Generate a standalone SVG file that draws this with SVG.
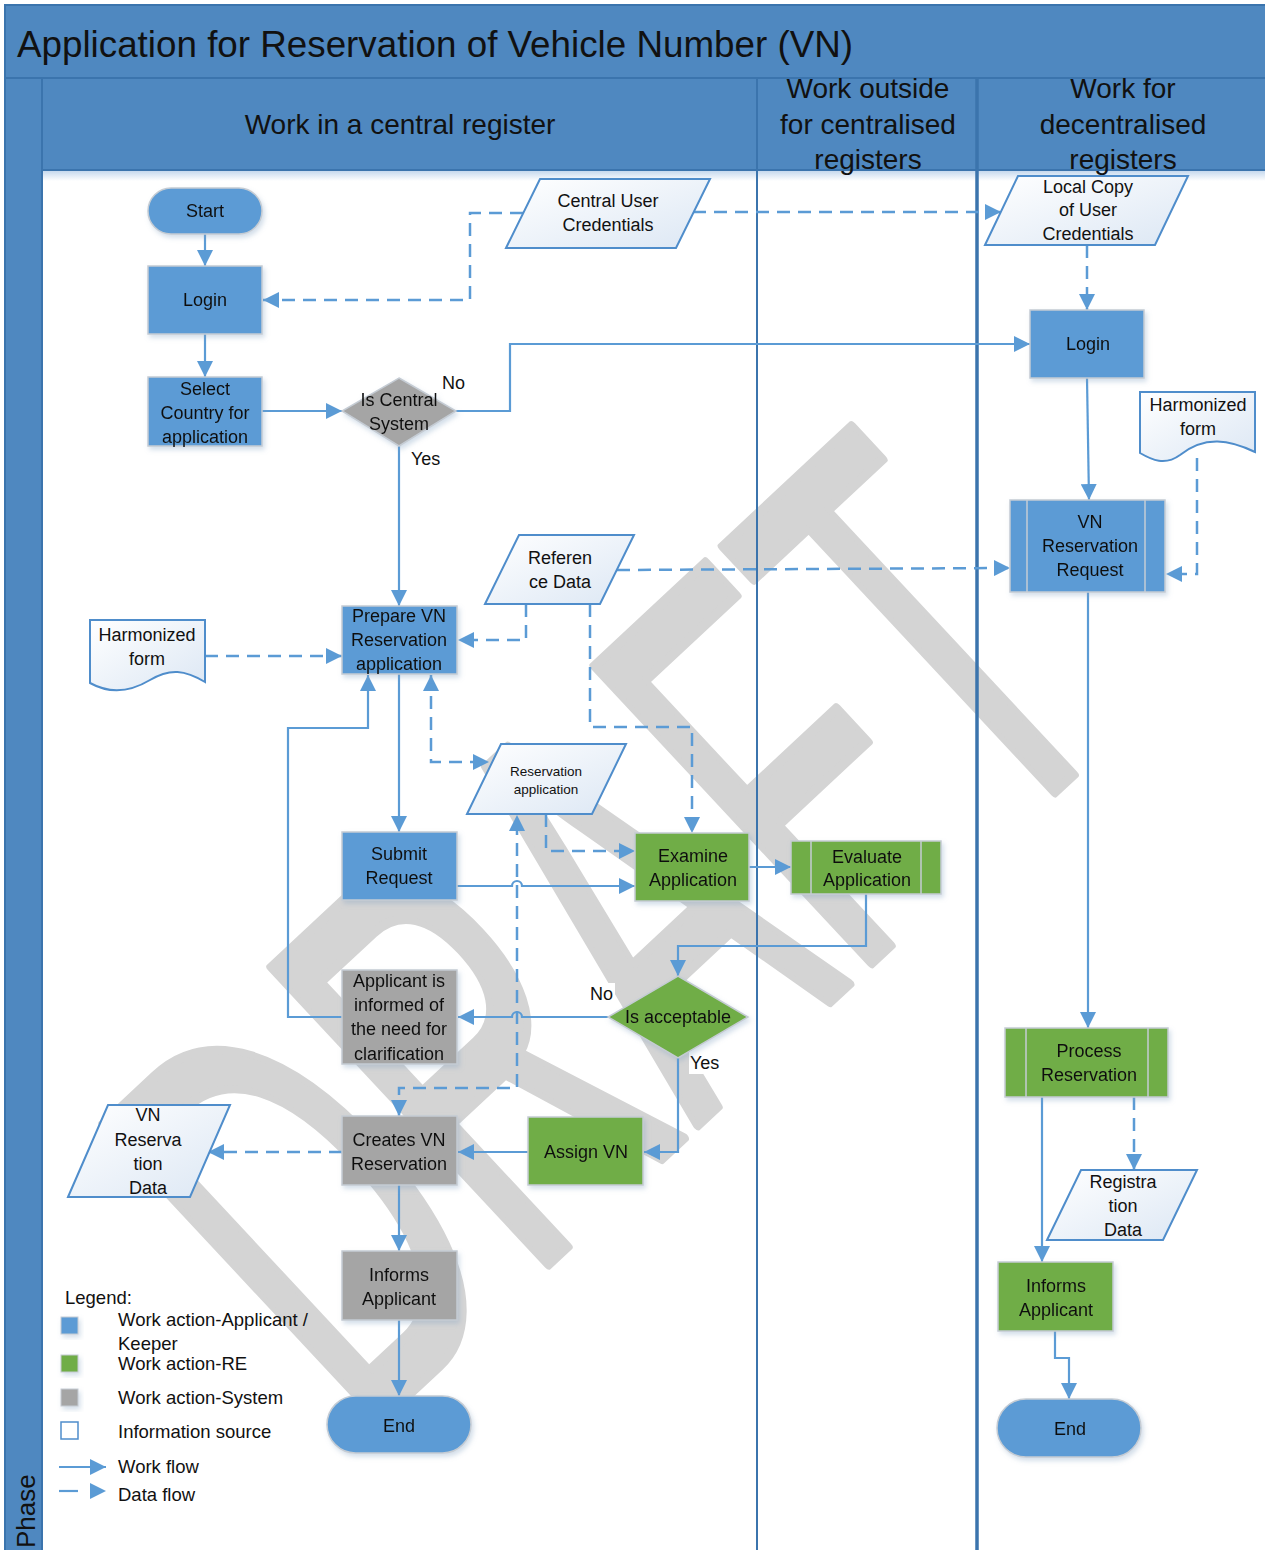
<svg xmlns="http://www.w3.org/2000/svg" width="1265" height="1550" viewBox="0 0 1265 1550">
<style>
text{font-family:"Liberation Sans",Arial,sans-serif;fill:#111}
.hd{font-size:28px;text-anchor:middle}
.t{font-size:18px;text-anchor:middle}
.s{font-size:13.5px;text-anchor:middle}
.lg{font-size:18.5px}
.blue{fill:#5b9bd5;stroke:#c5ccd4;stroke-width:1.5}
.green{fill:#70ad47;stroke:#c5ccd4;stroke-width:1.5}
.gray{fill:#a5a5a5;stroke:#c5ccd4;stroke-width:1.5}
.data{fill:url(#dg);stroke:#4f8dcb;stroke-width:2}
.in{stroke:#c5ccd4;stroke-width:1.5;fill:none}
.w{fill:none;stroke:#5b9bd5;stroke-width:2.2}
.d{fill:none;stroke:#5b9bd5;stroke-width:2.5;stroke-dasharray:13 8}
.lab{font-size:18px}
</style>
<defs>
<linearGradient id="dg" x1="0" y1="0" x2="1" y2="1">
<stop offset="0" stop-color="#ffffff"/><stop offset="1" stop-color="#dce7f4"/>
</linearGradient>
<linearGradient id="hs" x1="0" y1="0" x2="0" y2="1">
<stop offset="0" stop-color="#c6d9ee"/><stop offset="1" stop-color="#ffffff"/>
</linearGradient>
<filter id="sh" x="-20%" y="-20%" width="150%" height="150%">
<feDropShadow dx="2" dy="3" stdDeviation="2.5" flood-color="#7f9fc0" flood-opacity="0.35"/>
</filter>
<marker id="ah" viewBox="0 0 10 10" refX="10" refY="5" markerWidth="16" markerHeight="16" markerUnits="userSpaceOnUse" orient="auto-start-reverse">
<path d="M0,0 L10,5 L0,10 z" fill="#5b9bd5"/>
</marker>
</defs>

<!-- background / pool -->
<rect x="0" y="0" width="1265" height="1550" fill="#ffffff"/>
<rect x="5" y="5" width="1262" height="73" fill="#4f88c0" stroke="#3b74ad" stroke-width="2"/>
<text x="17" y="57" textLength="836" lengthAdjust="spacingAndGlyphs" style="font-size:37px">Application for Reservation of Vehicle Number (VN)</text>
<rect x="5" y="78" width="37" height="1475" fill="#4f88c0" stroke="#3b74ad" stroke-width="2"/>
<text transform="translate(35,1548) rotate(-90)" style="font-size:26px">Phase</text>
<rect x="42" y="78" width="1225" height="92" fill="#4f88c0" stroke="#3b74ad" stroke-width="2"/>
<rect x="43" y="171" width="1222" height="10" fill="url(#hs)"/>

<!-- watermark -->
<text transform="translate(360,1440) rotate(-43)" textLength="1060" lengthAdjust="spacingAndGlyphs" style="font-size:590px;fill:#d4d4d4;stroke:#d4d4d4;stroke-width:10;stroke-linejoin:round">DRAFT</text>

<!-- lane dividers -->
<g id="lanes">
<line x1="42" y1="78" x2="42" y2="1550" stroke="#3b74ad" stroke-width="2"/>
<line x1="757" y1="78" x2="757" y2="1550" stroke="#3b74ad" stroke-width="2"/>
<line x1="977" y1="78" x2="977" y2="1550" stroke="#3b74ad" stroke-width="3.5"/>
<line x1="5" y1="1550" x2="5" y2="5" stroke="#3b74ad" stroke-width="2"/>
<text class="hd" x="400" y="134">Work in a central register</text>
<text class="hd" x="868" y="98">Work outside</text>
<text class="hd" x="868" y="134">for centralised</text>
<text class="hd" x="868" y="169">registers</text>
<text class="hd" x="1123" y="98">Work for</text>
<text class="hd" x="1123" y="134">decentralised</text>
<text class="hd" x="1123" y="169">registers</text>
</g>

<!-- connectors -->
<g id="connectors">
<path class="w" d="M205,234 V266" marker-end="url(#ah)"/>
<path class="w" d="M205,334 V377" marker-end="url(#ah)"/>
<path class="w" d="M262,411 H342" marker-end="url(#ah)"/>
<path class="w" d="M456,411 H510 V344 H1030" marker-end="url(#ah)"/>
<path class="w" d="M399,446 V606" marker-end="url(#ah)"/>
<path class="d" d="M523,213 H470 V300 H263" marker-end="url(#ah)"/>
<path class="d" d="M693,212 H1001" marker-end="url(#ah)"/>
<path class="d" d="M1087,245 V310" marker-end="url(#ah)"/>
<path class="w" d="M1087,378 L1089,500" marker-end="url(#ah)"/>
<path class="d" d="M1197,458 V574 H1166" marker-end="url(#ah)"/>
<path class="d" d="M617,570 L1010,568" marker-end="url(#ah)"/>
<path class="d" d="M526,604 V640 H458" marker-end="url(#ah)"/>
<path class="d" d="M590,604 V727 H692 V833" marker-end="url(#ah)"/>
<path class="d" d="M205,656 H342" marker-end="url(#ah)"/>
<path class="d" d="M431,675 V762 H489" marker-start="url(#ah)" marker-end="url(#ah)"/>
<path class="w" d="M399,674 V832" marker-end="url(#ah)"/>
<path class="d" d="M546,814 V851 H635" marker-end="url(#ah)"/>
<path class="w" d="M457,886 H512 A5,5 0 0 1 522,886 H635" marker-end="url(#ah)"/>
<path class="w" d="M749,867 H791" marker-end="url(#ah)"/>
<path class="w" d="M866,894 V946 H678 V976" marker-end="url(#ah)"/>
<path class="w" d="M608,1017 H522 A5,5 0 0 0 512,1017 H458" marker-end="url(#ah)"/>
<path class="w" d="M342,1017 H288 V728 H368 V675" marker-end="url(#ah)"/>
<path class="w" d="M678,1058 V1152 H644" marker-end="url(#ah)"/>
<path class="w" d="M528,1152 H458" marker-end="url(#ah)"/>
<path class="d" d="M342,1152 H208" marker-end="url(#ah)"/>
<path class="d" d="M399,1116 V1088 H517 V815" marker-start="url(#ah)" marker-end="url(#ah)"/>
<path class="w" d="M399,1185 V1251" marker-end="url(#ah)"/>
<path class="w" d="M399,1320 V1396" marker-end="url(#ah)"/>
<path class="w" d="M1088,592 V1028" marker-end="url(#ah)"/>
<path class="w" d="M1042,1097 V1262" marker-end="url(#ah)"/>
<path class="d" d="M1134,1097 V1170" marker-end="url(#ah)"/>
<path class="w" d="M1055,1331 V1358 H1069 V1399" marker-end="url(#ah)"/>
</g>

<!-- labels -->
<g id="labels">
<text class="lab" x="442" y="389">No</text>
<text class="lab" x="411" y="465">Yes</text>
<rect x="589" y="983" width="26" height="21" fill="#fff"/>
<text class="lab" x="590" y="1000">No</text>
<rect x="689" y="1052" width="34" height="22" fill="#fff"/>
<text class="lab" x="690" y="1069">Yes</text>
</g>

<!-- nodes -->
<g id="start" filter="url(#sh)"><rect class="blue" x="148" y="188" width="114" height="46" rx="23"/><text class="t" x="205" y="217">Start</text></g>
<g id="login1" filter="url(#sh)"><rect class="blue" x="148" y="266" width="114" height="68"/><text class="t" x="205" y="306">Login</text></g>
<g id="select" filter="url(#sh)"><rect class="blue" x="148" y="377" width="114" height="69"/><text class="t" x="205" y="395">Select</text><text class="t" x="205" y="419">Country for</text><text class="t" x="205" y="443">application</text></g>
<g id="iscentral" filter="url(#sh)"><polygon class="gray" points="399,378 456,411 399,446 342,411"/><text class="t" x="399" y="406">Is Central</text><text class="t" x="399" y="430">System</text></g>
<g id="centralcred"><polygon class="data" points="506,248 540,179 710,179 676,248"/><text class="t" x="608" y="207">Central User</text><text class="t" x="608" y="231">Credentials</text></g>
<g id="localcopy"><polygon class="data" points="985,245 1018,176 1188,176 1155,245"/><text class="t" x="1088" y="193">Local Copy</text><text class="t" x="1088" y="216">of User</text><text class="t" x="1088" y="240">Credentials</text></g>
<g id="login2" filter="url(#sh)"><rect class="blue" x="1030" y="310" width="114" height="68"/><text class="t" x="1088" y="350">Login</text></g>
<g id="harm2"><path class="data" d="M1140,392 H1255 V452 C1230,440 1205,435 1180,455 C1165,466 1152,460 1140,453 Z"/><text class="t" x="1198" y="411">Harmonized</text><text class="t" x="1198" y="435">form</text></g>
<g id="vnreq" filter="url(#sh)"><rect class="blue" x="1010" y="500" width="155" height="92"/><line class="in" x1="1027" y1="500" x2="1027" y2="592"/><line class="in" x1="1145" y1="500" x2="1145" y2="592"/><text class="t" x="1090" y="528">VN</text><text class="t" x="1090" y="552">Reservation</text><text class="t" x="1090" y="576">Request</text></g>
<g id="refdata"><polygon class="data" points="485,604 519,535 634,535 600,604"/><text class="t" x="560" y="564">Referen</text><text class="t" x="560" y="588">ce Data</text></g>
<g id="prepare" filter="url(#sh)"><rect class="blue" x="342" y="606" width="115" height="68"/><text class="t" x="399" y="622">Prepare VN</text><text class="t" x="399" y="646">Reservation</text><text class="t" x="399" y="670">application</text></g>
<g id="harm1"><path class="data" d="M90,620 H205 V682 C185,670 170,668 150,680 C130,692 110,694 90,683 Z"/><text class="t" x="147" y="641">Harmonized</text><text class="t" x="147" y="665">form</text></g>
<g id="resapp"><polygon class="data" points="467,814 501,744 626,744 592,814"/><text class="s" x="546" y="776">Reservation</text><text class="s" x="546" y="794">application</text></g>
<g id="submit" filter="url(#sh)"><rect class="blue" x="342" y="832" width="115" height="68"/><text class="t" x="399" y="860">Submit</text><text class="t" x="399" y="884">Request</text></g>
<g id="examine" filter="url(#sh)"><rect class="green" x="635" y="833" width="114" height="68"/><text class="t" x="693" y="862">Examine</text><text class="t" x="693" y="886">Application</text></g>
<g id="evaluate" filter="url(#sh)"><rect class="green" x="791" y="841" width="150" height="53"/><line class="in" x1="811" y1="841" x2="811" y2="894"/><line class="in" x1="921" y1="841" x2="921" y2="894"/><text class="t" x="867" y="863">Evaluate</text><text class="t" x="867" y="886">Application</text></g>
<g id="isacceptable" filter="url(#sh)"><polygon class="green" points="678,976 748,1017 678,1058 608,1017"/><text class="t" x="678" y="1023">Is acceptable</text></g>
<g id="informed" filter="url(#sh)"><rect class="gray" x="342" y="970" width="115" height="94"/><text class="t" x="399" y="987">Applicant is</text><text class="t" x="399" y="1011">informed of</text><text class="t" x="399" y="1035">the need for</text><text class="t" x="399" y="1060">clarification</text></g>
<g id="creates" filter="url(#sh)"><rect class="gray" x="342" y="1116" width="115" height="69"/><text class="t" x="399" y="1146">Creates VN</text><text class="t" x="399" y="1170">Reservation</text></g>
<g id="assign" filter="url(#sh)"><rect class="green" x="528" y="1117" width="115" height="68"/><text class="t" x="586" y="1158">Assign VN</text></g>
<g id="vndata"><polygon class="data" points="68,1197 108,1105 230,1105 190,1197"/><text class="t" x="148" y="1121">VN</text><text class="t" x="148" y="1146">Reserva</text><text class="t" x="148" y="1170">tion</text><text class="t" x="148" y="1194">Data</text></g>
<g id="informs1" filter="url(#sh)"><rect class="gray" x="342" y="1251" width="115" height="69"/><text class="t" x="399" y="1281">Informs</text><text class="t" x="399" y="1305">Applicant</text></g>
<g id="end1" filter="url(#sh)"><rect class="blue" x="327" y="1396" width="144" height="57" rx="28.5"/><text class="t" x="399" y="1432">End</text></g>
<g id="process" filter="url(#sh)"><rect class="green" x="1005" y="1028" width="163" height="69"/><line class="in" x1="1026" y1="1028" x2="1026" y2="1097"/><line class="in" x1="1148" y1="1028" x2="1148" y2="1097"/><text class="t" x="1089" y="1057">Process</text><text class="t" x="1089" y="1081">Reservation</text></g>
<g id="regdata"><polygon class="data" points="1047,1240 1081,1170 1197,1170 1163,1240"/><text class="t" x="1123" y="1188">Registra</text><text class="t" x="1123" y="1212">tion</text><text class="t" x="1123" y="1236">Data</text></g>
<g id="informs2" filter="url(#sh)"><rect class="green" x="998" y="1262" width="115" height="69"/><text class="t" x="1056" y="1292">Informs</text><text class="t" x="1056" y="1316">Applicant</text></g>
<g id="end2" filter="url(#sh)"><rect class="blue" x="997" y="1399" width="144" height="58" rx="29"/><text class="t" x="1070" y="1435">End</text></g>

<!-- legend -->
<g id="legend">
<text class="lg" x="65" y="1304">Legend:</text>
<rect x="61" y="1317" width="17" height="17" fill="#5b9bd5" stroke="#c5ccd4" filter="url(#sh)"/>
<rect x="61" y="1355" width="17" height="17" fill="#70ad47" stroke="#c5ccd4" filter="url(#sh)"/>
<rect x="61" y="1389" width="17" height="17" fill="#a5a5a5" stroke="#c5ccd4" filter="url(#sh)"/>
<rect x="61" y="1422" width="17" height="17" fill="#fff" stroke="#4f8dcb" stroke-width="1.5"/>
<text class="lg" x="118" y="1326">Work action-Applicant /</text>
<text class="lg" x="118" y="1350">Keeper</text>
<text class="lg" x="118" y="1370">Work action-RE</text>
<text class="lg" x="118" y="1404">Work action-System</text>
<text class="lg" x="118" y="1438">Information source</text>
<text class="lg" x="118" y="1473">Work flow</text>
<text class="lg" x="118" y="1501">Data flow</text>
<path class="w" d="M59,1467 H106" marker-end="url(#ah)"/>
<path d="M59,1491 H78" stroke="#5b9bd5" stroke-width="2.2"/>
<path d="M90,1483 L106,1491 L90,1499 z" fill="#5b9bd5"/>
</g>
</svg>
